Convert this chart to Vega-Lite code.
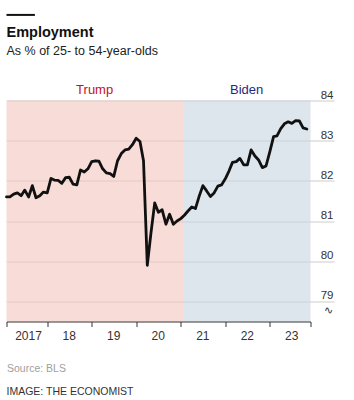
{
  "$schema": "https://vega.github.io/schema/vega-lite/v6.json",
  "width": 304,
  "height": 221,
  "autosize": {"type": "none"},
  "padding": {"left": 6.5, "top": 100.5, "right": 43.5, "bottom": 78.5},
  "background": "white",
  "config": {"view": {"stroke": null}, "font": "Liberation Sans"},
  "title": {
    "text": "Employment",
    "subtitle": "As % of 25- to 54-year-olds",
    "anchor": "start",
    "frame": "group",
    "offset": -45,
    "font": "Liberation Sans",
    "fontSize": 14.5,
    "fontWeight": "bold",
    "color": "#111111",
    "subtitleFont": "Liberation Sans",
    "subtitleFontSize": 12.5,
    "subtitleColor": "#222222",
    "subtitlePadding": 5
  },
  "datasets": {
    "terms": [
      {"leader": "Trump", "start": "2017-02-01", "end": "2021-01-20", "mid": "2019-01-25"},
      {"leader": "Biden", "start": "2021-01-20", "end": "2023-12-01", "mid": "2022-06-25"}
    ],
    "lfpr": [
      {"date": "2017-02-01", "value": 81.6},
      {"date": "2017-03-01", "value": 81.6},
      {"date": "2017-04-01", "value": 81.67},
      {"date": "2017-05-01", "value": 81.7},
      {"date": "2017-06-01", "value": 81.63},
      {"date": "2017-07-01", "value": 81.77},
      {"date": "2017-08-01", "value": 81.6},
      {"date": "2017-09-01", "value": 81.88},
      {"date": "2017-10-01", "value": 81.58},
      {"date": "2017-11-01", "value": 81.63},
      {"date": "2017-12-01", "value": 81.72},
      {"date": "2018-01-01", "value": 81.7},
      {"date": "2018-02-01", "value": 82.06},
      {"date": "2018-03-01", "value": 82.02},
      {"date": "2018-04-01", "value": 82.01},
      {"date": "2018-05-01", "value": 81.94},
      {"date": "2018-06-01", "value": 82.08},
      {"date": "2018-07-01", "value": 82.09},
      {"date": "2018-08-01", "value": 81.92},
      {"date": "2018-09-01", "value": 81.9},
      {"date": "2018-10-01", "value": 82.27},
      {"date": "2018-11-01", "value": 82.22},
      {"date": "2018-12-01", "value": 82.3},
      {"date": "2019-01-01", "value": 82.48},
      {"date": "2019-02-01", "value": 82.5},
      {"date": "2019-03-01", "value": 82.49},
      {"date": "2019-04-01", "value": 82.3},
      {"date": "2019-05-01", "value": 82.2},
      {"date": "2019-06-01", "value": 82.18},
      {"date": "2019-07-01", "value": 82.11},
      {"date": "2019-08-01", "value": 82.5},
      {"date": "2019-09-01", "value": 82.68},
      {"date": "2019-10-01", "value": 82.77},
      {"date": "2019-11-01", "value": 82.79},
      {"date": "2019-12-01", "value": 82.9},
      {"date": "2020-01-01", "value": 83.06},
      {"date": "2020-02-01", "value": 82.98},
      {"date": "2020-03-01", "value": 82.5},
      {"date": "2020-04-01", "value": 79.9},
      {"date": "2020-05-01", "value": 80.7},
      {"date": "2020-06-01", "value": 81.45},
      {"date": "2020-07-01", "value": 81.22},
      {"date": "2020-08-01", "value": 81.28},
      {"date": "2020-09-01", "value": 80.92},
      {"date": "2020-10-01", "value": 81.17},
      {"date": "2020-11-01", "value": 80.92},
      {"date": "2020-12-01", "value": 81.0},
      {"date": "2021-01-01", "value": 81.06},
      {"date": "2021-02-01", "value": 81.15},
      {"date": "2021-03-01", "value": 81.25},
      {"date": "2021-04-01", "value": 81.35},
      {"date": "2021-05-01", "value": 81.31},
      {"date": "2021-06-01", "value": 81.62},
      {"date": "2021-07-01", "value": 81.88},
      {"date": "2021-08-01", "value": 81.75},
      {"date": "2021-09-01", "value": 81.61},
      {"date": "2021-10-01", "value": 81.7},
      {"date": "2021-11-01", "value": 81.87},
      {"date": "2021-12-01", "value": 81.9},
      {"date": "2022-01-01", "value": 82.05},
      {"date": "2022-02-01", "value": 82.25},
      {"date": "2022-03-01", "value": 82.46},
      {"date": "2022-04-01", "value": 82.48},
      {"date": "2022-05-01", "value": 82.56},
      {"date": "2022-06-01", "value": 82.4},
      {"date": "2022-07-01", "value": 82.4},
      {"date": "2022-08-01", "value": 82.77},
      {"date": "2022-09-01", "value": 82.62},
      {"date": "2022-10-01", "value": 82.52},
      {"date": "2022-11-01", "value": 82.33},
      {"date": "2022-12-01", "value": 82.37},
      {"date": "2023-01-01", "value": 82.72},
      {"date": "2023-02-01", "value": 83.1},
      {"date": "2023-03-01", "value": 83.12},
      {"date": "2023-04-01", "value": 83.3},
      {"date": "2023-05-01", "value": 83.42},
      {"date": "2023-06-01", "value": 83.47},
      {"date": "2023-07-01", "value": 83.43},
      {"date": "2023-08-01", "value": 83.5},
      {"date": "2023-09-01", "value": 83.49},
      {"date": "2023-10-01", "value": 83.32},
      {"date": "2023-11-01", "value": 83.29}
    ]
  },
  "layer": [
    {
      "data": {"name": "terms"},
      "mark": {"type": "rect", "opacity": 0.6},
      "encoding": {
        "x": {
          "field": "start",
          "type": "temporal",
          "scale": {"domain": [{"year": 2017, "month": 2, "date": 1}, {"year": 2023, "month": 12, "date": 1}], "nice": false},
          "axis": {
            "values": [
              {"year": 2017, "month": 2, "date": 1},
              {"year": 2018, "month": 1, "date": 1},
              {"year": 2019, "month": 1, "date": 1},
              {"year": 2020, "month": 1, "date": 1},
              {"year": 2021, "month": 1, "date": 1},
              {"year": 2022, "month": 1, "date": 1},
              {"year": 2023, "month": 1, "date": 1},
              {"year": 2023, "month": 12, "date": 1}
            ],
            "labelExpr": "month(datum.value) == 11 ? '' : (year(datum.value) == 2017 ? '2017' : timeFormat(datum.value, '%y'))",
            "labelOffset": 21.5,
            "labelPadding": 4,
            "labelFontSize": 12,
            "labelColor": "#333333",
            "labelFlush": false,
            "labelOverlap": false,
            "tickColor": "#333333",
            "tickSize": 5,
            "domainColor": "#333333",
            "grid": false,
            "zindex": 1,
            "title": "Source: BLS",
            "titleAnchor": "start",
            "titleAlign": "left",
            "titleBaseline": "alphabetic",
            "titleX": 0,
            "titleY": 50,
            "titleFontSize": 10.5,
            "titleFontWeight": "normal",
            "titleColor": "#a0a0a0"
          }
        },
        "x2": {"field": "end"},
        "fill": {
          "field": "leader",
          "type": "nominal",
          "scale": {"domain": ["Trump", "Biden"], "range": ["#f2c5be", "#c6d4e1"]},
          "legend": null
        }
      }
    },
    {
      "data": {"name": "terms"},
      "mark": {"type": "text", "fontSize": 13, "baseline": "alphabetic", "align": "center"},
      "encoding": {
        "x": {"field": "mid", "type": "temporal"},
        "y": {"datum": 84.16, "type": "quantitative"},
        "text": {"field": "leader"},
        "color": {
          "field": "leader",
          "type": "nominal",
          "scale": {"domain": ["Trump", "Biden"], "range": ["#c8101e", "#1f2a80"]},
          "legend": null
        }
      }
    },
    {
      "data": {"name": "lfpr"},
      "mark": {"type": "line", "color": "#111111", "strokeWidth": 2.8, "strokeJoin": "round", "strokeCap": "round"},
      "encoding": {
        "x": {"field": "date", "type": "temporal"},
        "y": {
          "field": "value",
          "type": "quantitative",
          "scale": {"domain": [78.5, 84], "nice": false, "zero": false},
          "axis": {
            "orient": "right",
            "values": [79, 80, 81, 82, 83, 84],
            "format": "d",
            "grid": true,
            "gridColor": "#cccccc",
            "tickColor": "#cccccc",
            "tickSize": 23.5,
            "domain": false,
            "labelAlign": "right",
            "labelPadding": -1,
            "labelBaseline": "alphabetic",
            "labelOffset": -2.5,
            "labelFontSize": 11.5,
            "labelColor": "#333333",
            "labelFlush": false,
            "labelOverlap": false,
            "title": null
          }
        }
      }
    },
    {
      "data": {"values": [{}]},
      "mark": {"type": "text", "align": "right", "baseline": "middle", "fontSize": 11, "color": "#333333", "text": "∿"},
      "encoding": {
        "x": {"datum": {"year": 2024, "month": 6, "date": 1}, "type": "temporal"},
        "y": {"datum": 78.76, "type": "quantitative"}
      }
    },
    {
      "data": {"values": [{}]},
      "mark": {"type": "rule", "color": "#111111", "strokeWidth": 2},
      "encoding": {
        "x": {"datum": {"year": 2017, "month": 2, "date": 1}, "type": "temporal"},
        "x2": {"datum": {"year": 2017, "month": 9, "date": 22}},
        "y": {"datum": 86.13, "type": "quantitative"}
      }
    },
    {
      "data": {"values": [{}]},
      "mark": {"type": "text", "align": "left", "baseline": "alphabetic", "fontSize": 10.5, "color": "#333333", "text": "IMAGE: THE ECONOMIST"},
      "encoding": {
        "x": {"datum": {"year": 2017, "month": 2, "date": 1}, "type": "temporal"},
        "y": {"datum": 76.67, "type": "quantitative"}
      }
    }
  ]
}
